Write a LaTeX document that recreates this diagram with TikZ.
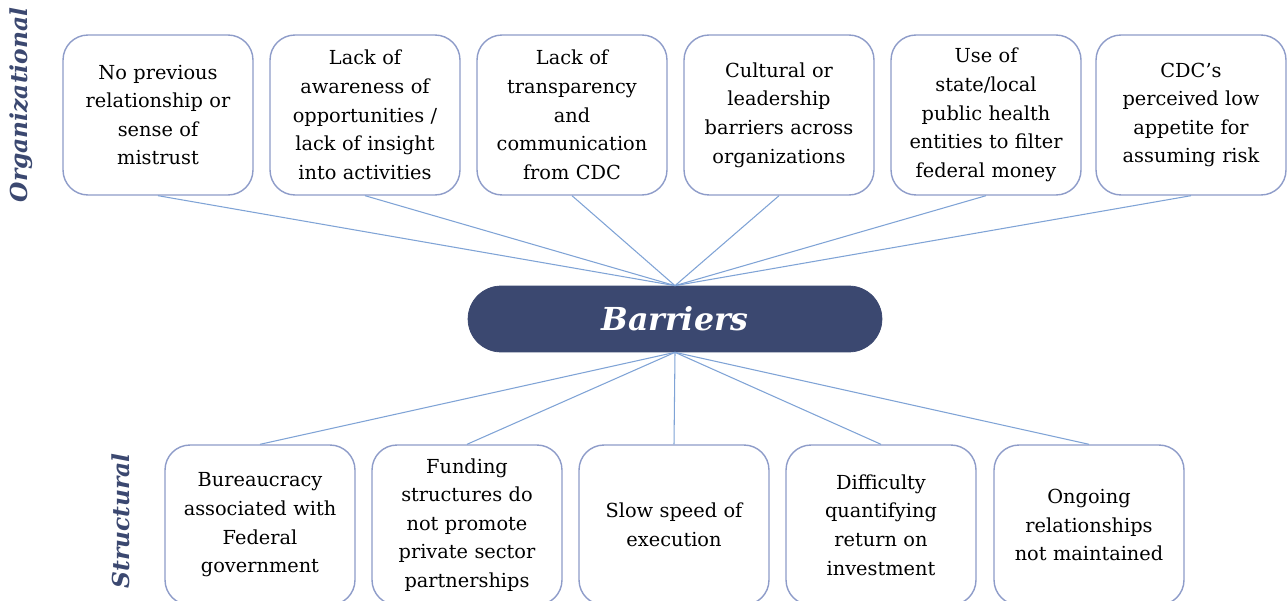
\documentclass[tikz,border=0pt]{standalone}
\usepackage{fontspec}
\setmainfont{DejaVu Serif}
\usetikzlibrary{positioning}
\definecolor{barnavy}{HTML}{3B4870}
\definecolor{boxedge}{HTML}{8E9CC9}
\definecolor{linkblue}{HTML}{7FA3D6}
\tikzset{
  cause/.style={draw=boxedge, line width=0.8pt, rounded corners=0.5cm,
    minimum width=3.8cm, minimum height=3.2cm, text width=3.6cm,
    align=center, inner sep=0pt, font=\fontsize{11}{16.3}\selectfont},
  hub/.style={fill=barnavy, draw=barnavy, rounded corners=0.66cm,
    minimum width=8.28cm, minimum height=1.32cm, text=white,
    font=\fontsize{18}{20}\selectfont\bfseries\itshape},
  link/.style={linkblue, line width=0.6pt},
  group/.style={rotate=90, text=barnavy,
    font=\fontsize{13.3}{15}\selectfont\bfseries\itshape}
}

\begin{document}
\begin{tikzpicture}[x=0.02cm, y=-0.02cm]
        \useasboundingbox (0,0) rectangle (1287,601);
        \fill[white] (0,0) rectangle (1287,601);

        % centre node
        \node[hub] (barriers) at (675,319) {Barriers};

        % organizational barriers
        \node[cause] (org1) at (158,115) {No previous\\relationship or\\sense of\\mistrust};
        \node[cause] (org2) at (365,115) {Lack of\\awareness of\\opportunities /\\lack of insight\\into activities};
        \node[cause] (org3) at (572,115) {Lack of\\transparency\\and\\communication\\from CDC};
        \node[cause] (org4) at (779,115) {Cultural or\\leadership\\barriers across\\organizations};
        \node[cause] (org5) at (986,115) {Use of\\state/local\\public health\\entities to filter\\federal money};
        \node[cause] (org6) at (1191,115) {CDC’s\\perceived low\\appetite for\\assuming risk};

        % structural barriers
        \node[cause] (str1) at (260,525) {Bureaucracy\\associated with\\Federal\\government};
        \node[cause] (str2) at (467,525) {Funding\\structures do\\not promote\\private sector\\partnerships};
        \node[cause] (str3) at (674,525) {Slow speed of\\execution};
        \node[cause] (str4) at (881,525) {Difficulty\\quantifying\\return on\\investment};
        \node[cause] (str5) at (1089,525) {Ongoing\\relationships\\not maintained};

        \foreach \i in {1,2,...,6}
        {
        \draw[link] (org\i.south) -- (barriers.north);
        }
        \foreach \i in {1,2,...,5}
        {
        \draw[link] (barriers.south) -- (str\i.north);
        }

        \node[group] (orglabel) at (21,105) {Organizational};
        \node[group] (strlabel) at (121,521) {Structural};
    \end{tikzpicture}
\end{document}
